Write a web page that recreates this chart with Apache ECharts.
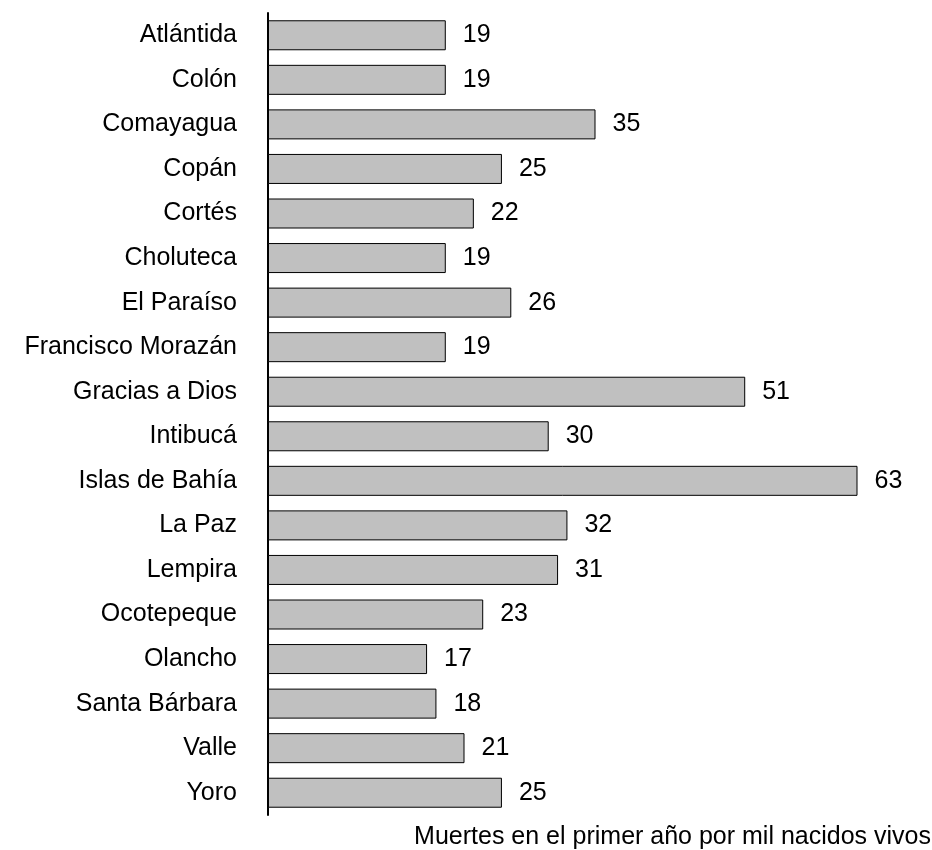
<!DOCTYPE html>
<html>
<head>
<meta charset="utf-8">
<script src="https://cdn.jsdelivr.net/npm/echarts@6/dist/echarts.min.js"></script>
<style>
    html, body { margin: 0; padding: 0; background: #fff; }
    #chart { width: 932px; height: 850px; }
</style>
</head>
<body>
<div id="chart"></div>
<script>
    // departamentos
    var departamentos = ['Atlántida', 'Colón', 'Comayagua', 'Copán', 'Cortés', 'Choluteca',
        'El Paraíso', 'Francisco Morazán', 'Gracias a Dios', 'Intibucá', 'Islas de Bahía',
        'La Paz', 'Lempira', 'Ocotepeque', 'Olancho', 'Santa Bárbara', 'Valle', 'Yoro'];
    // muertes por mil nacidos vivos
    var tasas = [19, 19, 35, 25, 22, 19, 26, 19, 51, 30, 63, 32, 31, 23, 17, 18, 21, 25];
    var tituloEje = 'Muertes en el primer año por mil nacidos vivos';

    var fuente = '"Liberation Sans", Arial, sans-serif';
    var chart = echarts.init(document.getElementById('chart'));

    chart.setOption({
        animation: false,
        title: {
            text: tituloEje,
            right: 1,
            top: 825,
            padding: 0,
            textStyle: { fontFamily: fuente, fontSize: 25, fontWeight: 'normal', color: '#000' }
        },
        grid: { left: 268, right: 9, top: 13, bottom: 35 },
        xAxis: {
            type: 'value',
            min: 0,
            max: 70,
            show: false
        },
        yAxis: {
            type: 'category',
            inverse: true,
            data: departamentos,
            axisLine: { show: true, lineStyle: { color: '#000', width: 2 } },
            axisTick: { show: false },
            axisLabel: { margin: 31, color: '#000', fontFamily: fuente, fontSize: 25, padding: [5, 0, 0, 0] }
        },
        series: [{
            type: 'bar',
            data: tasas,
            barWidth: 30,
            itemStyle: { color: '#c0c0c0', borderColor: '#000', borderWidth: 1 },
            label: {
                show: true,
                position: 'right',
                distance: 17,
                color: '#000',
                fontFamily: fuente,
                fontSize: 25,
                padding: [5, 0, 0, 0]
            }
        }]
    });
</script>
</body>
</html>
